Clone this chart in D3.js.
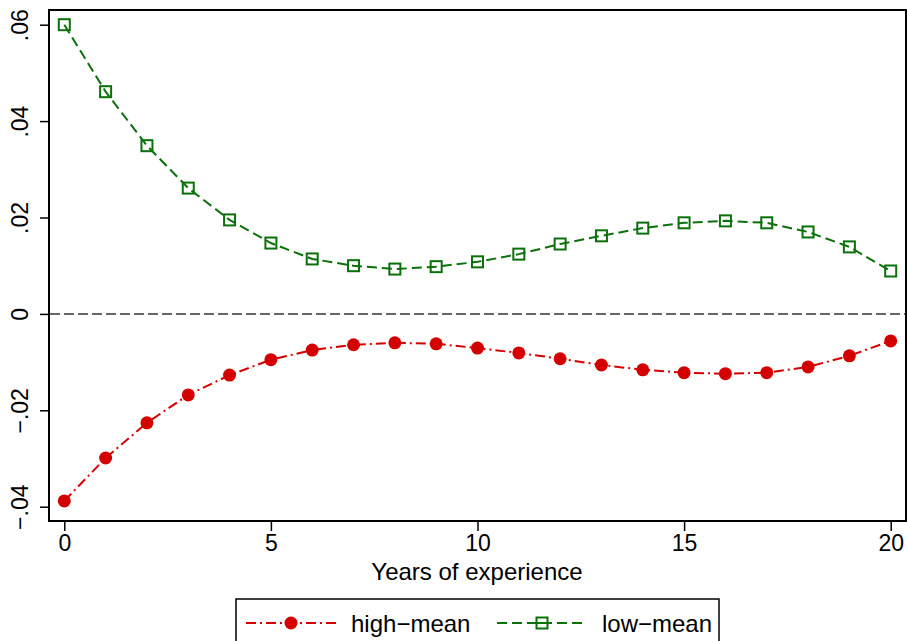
<!DOCTYPE html>
<html>
<head>
<meta charset="utf-8">
<script src="https://cdn.jsdelivr.net/npm/d3@7"></script>
<style>
  body { margin: 0; background: #fff; }
  svg { font-family: "Liberation Sans", Arial, sans-serif; }
</style>
</head>
<body>
<div id="chart"></div>
<script>
// years of experience
const years = d3.range(0, 21);
const highMean = [-0.0388, -0.0299, -0.0226, -0.0168, -0.0127, -0.0095, -0.0075, -0.0064, -0.0060, -0.0062,
  -0.0071, -0.0081, -0.0093, -0.0106, -0.0116, -0.0122, -0.0124, -0.0122, -0.0110, -0.0087, -0.0056];
const lowMean = [0.0600, 0.0461, 0.0349, 0.0261, 0.0195, 0.0147, 0.0114, 0.0100, 0.0093, 0.0098,
  0.0108, 0.0124, 0.0145, 0.0162, 0.0178, 0.0189, 0.0193, 0.0189, 0.0170, 0.0139, 0.0089];
const xTicks = [0, 5, 10, 15, 20];
const yTicks = [-0.04, -0.02, 0, 0.02, 0.04, 0.06];
const yTickLabels = ["\u2212.04", "\u2212.02", "0", ".02", ".04", ".06"];

const red = "#d40000", green = "#0a700a";

const width = 907, height = 641;
const svg = d3.select("#chart").append("svg")
  .attr("width", width)
  .attr("height", height);

const frame = { left: 49, right: 906, top: 10, bottom: 521 };

const x = d3.scaleLinear().domain([0, 20]).range([64.3, 890.7]);
const y = d3.scaleLinear().domain([-0.04, 0.06]).range([506.7, 24.7]);

// frame
svg.append("rect")
  .attr("x", frame.left).attr("y", frame.top)
  .attr("width", frame.right - frame.left).attr("height", frame.bottom - frame.top)
  .attr("fill", "none").attr("stroke", "#000").attr("stroke-width", 2);

// y axis
const yAxis = svg.append("g")
  .attr("transform", `translate(${frame.left},0)`)
  .call(d3.axisLeft(y).tickValues(yTicks).tickSize(9).tickFormat((d, i) => yTickLabels[i]));
yAxis.select(".domain").remove();
yAxis.selectAll(".tick line").attr("stroke-width", 1.5);
yAxis.selectAll(".tick text")
  .attr("font-size", 23)
  .attr("fill", "#000")
  .attr("transform", "rotate(-90)")
  .attr("x", 0).attr("y", -21)
  .attr("dy", 0)
  .attr("text-anchor", "middle");

// x axis
const xAxis = svg.append("g")
  .attr("transform", `translate(0,${frame.bottom})`)
  .call(d3.axisBottom(x).tickValues(xTicks).tickSize(10).tickFormat(d3.format("d")));
xAxis.select(".domain").remove();
xAxis.selectAll(".tick line").attr("stroke-width", 1.5);
xAxis.selectAll(".tick text")
  .attr("font-size", 23)
  .attr("fill", "#000")
  .attr("y", 14)
  .attr("dy", "0.71em");

svg.append("text")
  .attr("x", 477)
  .attr("y", 580)
  .attr("text-anchor", "middle")
  .attr("font-size", 24)
  .text("Years of experience");

// zero line
svg.append("line")
  .attr("x1", frame.left + 1).attr("x2", frame.right - 1)
  .attr("y1", y(0)).attr("y2", y(0))
  .attr("stroke", "#666").attr("stroke-width", 2)
  .attr("stroke-dasharray", "10,4");

const line = d3.line().x((d, i) => x(years[i])).y(d => y(d));

// low-mean
svg.append("path")
  .datum(lowMean)
  .attr("d", line)
  .attr("fill", "none").attr("stroke", green).attr("stroke-width", 2)
  .attr("stroke-dasharray", "10,5");
svg.selectAll("rect.low").data(lowMean).enter().append("rect")
  .attr("class", "low")
  .attr("x", (d, i) => x(years[i]) - 5.5).attr("y", d => y(d) - 5.5)
  .attr("width", 11).attr("height", 11)
  .attr("fill", "none").attr("stroke", green).attr("stroke-width", 2);

// high-mean
svg.append("path")
  .datum(highMean)
  .attr("d", line)
  .attr("fill", "none").attr("stroke", red).attr("stroke-width", 2)
  .attr("stroke-dasharray", "10,4,2,4");
svg.selectAll("circle.high").data(highMean).enter().append("circle")
  .attr("class", "high")
  .attr("cx", (d, i) => x(years[i])).attr("cy", d => y(d))
  .attr("r", 6.5)
  .attr("fill", red);

// legend
const legend = svg.append("g");
legend.append("rect")
  .attr("x", 236).attr("y", 599)
  .attr("width", 483).attr("height", 50)
  .attr("fill", "#fff").attr("stroke", "#000").attr("stroke-width", 1.5);

const items = [
  { name: "high\u2212mean", color: red, dash: "10,4,2,4", x0: 246, sym: "circle" },
  { name: "low\u2212mean", color: green, dash: "10,5", x0: 497, sym: "square" }
];
const ly = 623;
items.forEach(it => {
  legend.append("line")
    .attr("x1", it.x0).attr("x2", it.x0 + 90)
    .attr("y1", ly).attr("y2", ly)
    .attr("stroke", it.color).attr("stroke-width", 2)
    .attr("stroke-dasharray", it.dash);
  if (it.sym === "circle") {
    legend.append("circle")
      .attr("cx", it.x0 + 45).attr("cy", ly).attr("r", 6.5).attr("fill", it.color);
  } else {
    legend.append("rect")
      .attr("x", it.x0 + 45 - 5.5).attr("y", ly - 5.5)
      .attr("width", 11).attr("height", 11)
      .attr("fill", "#fff").attr("stroke", it.color).attr("stroke-width", 2);
    legend.append("line")
      .attr("x1", it.x0 + 40).attr("x2", it.x0 + 50)
      .attr("y1", ly).attr("y2", ly)
      .attr("stroke", it.color).attr("stroke-width", 2);
  }
  legend.append("text")
    .attr("x", it.x0 + 105).attr("y", ly + 9)
    .attr("font-size", 24)
    .text(it.name);
});
</script>
</body>
</html>
